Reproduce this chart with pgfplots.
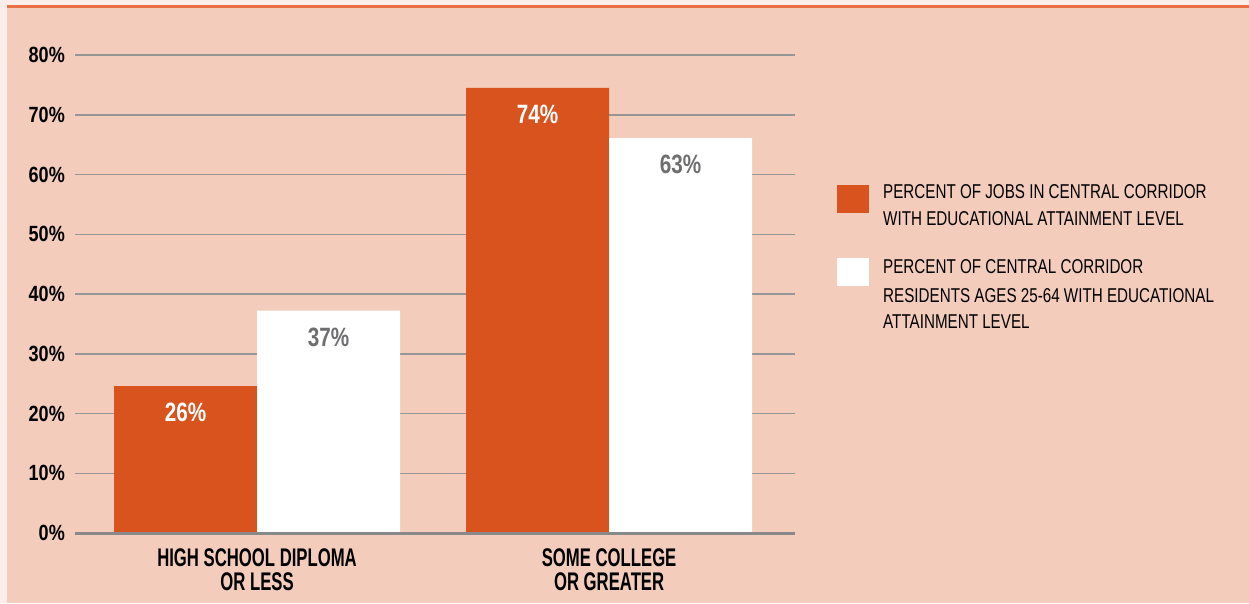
\documentclass[border=0pt]{standalone}
\usepackage{fontspec}
\setmainfont{Liberation Sans}
\newfontfamily\tickfont{Liberation Sans}[FakeStretch=0.82]
\newfontfamily\catfont{Liberation Sans}[FakeStretch=0.655]
\newfontfamily\legfont{Liberation Sans}[FakeStretch=0.76]
\newfontfamily\valfont{Liberation Sans}[FakeStretch=0.78]
\usepackage{pgfplots}
\pgfplotsset{compat=1.18}
\definecolor{bg}{RGB}{243,204,187}
\definecolor{topstrip}{RGB}{251,238,234}
\definecolor{topline}{RGB}{232,112,68}
\definecolor{barorange}{RGB}{217,83,30}
\definecolor{gridgray}{RGB}{150,150,150}
\definecolor{axisgray}{RGB}{137,137,137}
\definecolor{valgray}{RGB}{110,110,113}
\begin{document}
\begin{tikzpicture}
\useasboundingbox (0pt,0pt) rectangle (1249pt,603pt);
\fill[bg] (0pt,0pt) rectangle (1249pt,603pt);
\fill[topstrip] (0pt,597pt) rectangle (1249pt,603pt);
\fill[topstrip] (0pt,0pt) rectangle (7pt,603pt);
\fill[topline] (7pt,595pt) rectangle (1249pt,598pt);
\begin{axis}[
  at={(75pt,70pt)}, anchor=south west,
  scale only axis, width=720pt, height=478pt,
  xmin=-0.517, xmax=1.528, ymin=0, ymax=80,
  ybar=0pt, bar width=143pt,
  axis line style={draw=none},
  major tick length=0pt,
  ymajorgrids, grid style={gridgray, line width=1.5pt},
  ytick={0,10,20,30,40,50,60,70,80},
  yticklabels={0\%,10\%,20\%,30\%,40\%,50\%,60\%,70\%,80\%},
  yticklabel style={font=\tickfont\bfseries\fontsize{22}{22}\selectfont, anchor=east, inner sep=0pt, xshift=-10pt, text=black},
  xtick={0,1},
  xticklabels={{HIGH SCHOOL DIPLOMA\\OR LESS},{SOME COLLEGE\\OR GREATER}},
  xticklabel style={align=center, font=\catfont\bfseries\fontsize{25.5}{24}\selectfont, anchor=north, inner sep=0pt, yshift=-15pt, text=black},
  point meta=explicit symbolic,
  nodes near coords,
  every node near coord/.append style={anchor=north, inner sep=0pt, yshift=-17pt, font=\valfont\bfseries\fontsize{26.5}{26.5}\selectfont},
  clip=false,
]
\addplot[draw=none, fill=barorange, every node near coord/.append style={text=white}]
  coordinates {(0,24.6) [26\%] (1,74.5) [74\%]};
\addplot[draw=none, fill=white, every node near coord/.append style={text=valgray}]
  coordinates {(0,37.2) [37\%] (1,66.1) [63\%]};
\draw[axisgray, line width=3pt] (axis cs:-0.517,0) -- (axis cs:1.528,0);
\end{axis}
\fill[barorange] (837pt,390pt) rectangle (869pt,418pt);
\fill[white] (837pt,317pt) rectangle (869pt,345pt);
\begin{scope}[every node/.style={anchor=base west, inner sep=0pt, font=\legfont\fontsize{20}{20}\selectfont, text=black}]
\node at (883pt,404pt) {PERCENT OF JOBS IN CENTRAL CORRIDOR};
\node at (883pt,377pt) {WITH EDUCATIONAL ATTAINMENT LEVEL};
\node at (883pt,329pt) {PERCENT OF CENTRAL CORRIDOR};
\node at (883pt,301pt) {RESIDENTS AGES 25-64 WITH EDUCATIONAL};
\node at (883pt,275pt) {ATTAINMENT LEVEL};
\end{scope}
\end{tikzpicture}
\end{document}
